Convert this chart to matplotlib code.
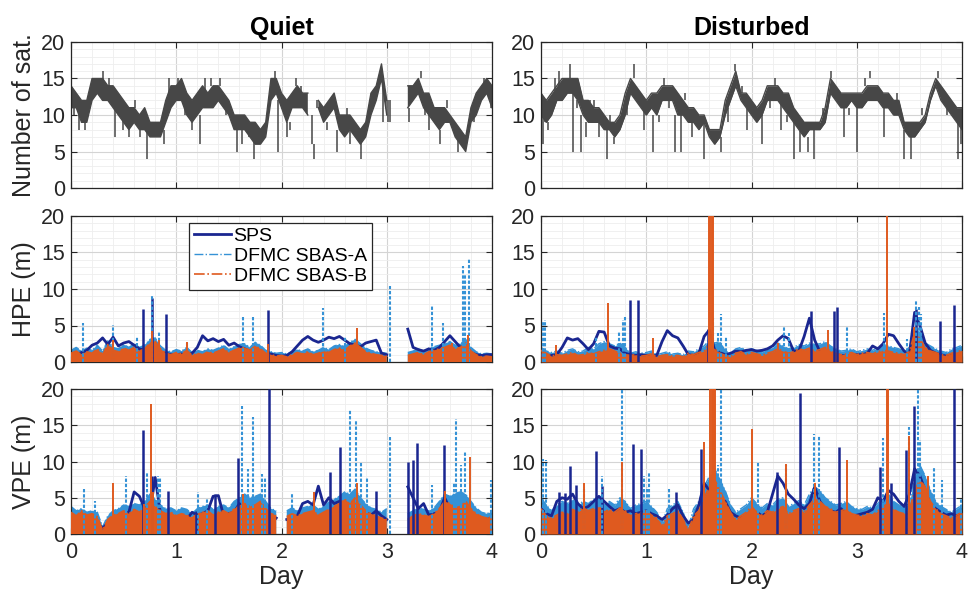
import numpy as np
import matplotlib.pyplot as plt
from matplotlib.ticker import MultipleLocator

nan = float('nan')

# common epoch grid, one sample every 0.05 day
days = np.linspace(0, 4, 81)

# ---- number of satellites: lower / upper edge of the band, plus short excursions
sat_quiet_lo = [11, 11, 9, 9, 12, 13, 12, 12, 11, 10,
                9, 8, 9, 8, 8, 7, 7, 7, 9, 11,
                12, 12, 10, 9, 10, 11, 11, 11, 12, 11,
                10, 8, 8, 8, 7, 6, 6, 7, 12, 13,
                11, 9, 11, 11, 11, 10, nan, 11, 9, 10,
                11, 8, 7, 8, 7, 6, 7, 10, 12, 15,
                10, nan, nan, nan, 11, 12, 13, 11, 10, 9,
                8, 9, 9, 7, 6, 5, 9, 10, 12, 13,
                11]
sat_quiet_hi = [14, 13, 12, 12, 15, 15, 15, 14, 14, 13,
                12, 11, 11, 10, 11, 9, 9, 9, 12, 14,
                14, 15, 13, 12, 13, 14, 13, 14, 14, 13,
                12, 10, 10, 10, 9, 9, 8, 9, 15, 15,
                13, 12, 13, 14, 13, 13, nan, 12, 11, 12,
                13, 10, 10, 10, 9, 8, 9, 13, 14, 17,
                12, nan, nan, nan, 14, 14, 15, 13, 13, 11,
                11, 11, 10, 9, 8, 7, 11, 13, 14, 15,
                14]
sat_quiet_jumps = [(0.03, 10, 12), (0.08, 8, 11), (0.13, 8, 10), (0.22, 14, 15),
                   (0.30, 12, 16), (0.36, 14, 15), (0.42, 7, 11), (0.49, 8, 10),
                   (0.55, 7, 9), (0.61, 11, 12), (0.66, 7, 8), (0.72, 4, 8),
                   (0.88, 6, 8), (0.93, 12, 15), (1.02, 14, 15), (1.08, 10, 12),
                   (1.15, 8, 10), (1.23, 6, 10), (1.27, 13, 15), (1.33, 14, 15),
                   (1.42, 14, 15), (1.47, 10, 11), (1.58, 5, 8), (1.62, 6, 8),
                   (1.69, 7, 8), (1.74, 4, 7), (1.79, 6, 7), (1.94, 14, 16),
                   (1.97, 5, 12), (2.05, 7, 9), (2.08, 8, 9), (2.14, 14, 15),
                   (2.19, 13, 14), (2.29, 6, 10), (2.31, 4, 6), (2.34, 11, 12),
                   (2.43, 8, 9), (2.53, 5, 8), (2.62, 10, 11), (2.65, 6, 8),
                   (2.76, 4, 7), (2.83, 9, 10), (2.96, 9, 15), (3.01, 9, 12),
                   (3.03, 9, 12), (3.21, 9, 11), (3.33, 15, 16), (3.36, 10, 11),
                   (3.40, 8, 10), (3.51, 6, 8), (3.57, 11, 12), (3.68, 5, 7),
                   (3.83, 9, 10), (3.92, 14, 15), (3.99, 11, 13)]

sat_dist_lo = [10, 9, 10, 12, 12, 13, 13, 12, 10, 9,
               9, 9, 8, 8, 7, 8, 10, 13, 12, 11,
               10, 11, 10, 12, 12, 12, 10, 10, 9, 9,
               8, 9, 7, 6, 7, 10, 12, 14, 12, 11,
               10, 9, 10, 12, 12, 12, 11, 10, 9, 8,
               7, 8, 8, 8, 9, 13, 12, 11, 11, 12,
               11, 11, 12, 12, 12, 11, 11, 10, 10, 8,
               7, 7, 8, 9, 12, 14, 12, 11, 10, 9,
               8]
sat_dist_hi = [13, 12, 13, 14, 15, 15, 15, 15, 12, 12,
               11, 11, 10, 9, 9, 10, 13, 15, 14, 13,
               12, 13, 13, 14, 14, 14, 13, 12, 11, 11,
               10, 10, 8, 8, 8, 12, 14, 16, 13, 13,
               12, 11, 12, 14, 14, 14, 13, 13, 11, 10,
               9, 9, 9, 9, 11, 15, 14, 13, 13, 13,
               13, 13, 14, 14, 14, 13, 13, 12, 12, 9,
               9, 9, 9, 10, 13, 15, 14, 13, 12, 11,
               11]
sat_dist_jumps = [(0.02, 6, 10), (0.04, 9, 11), (0.07, 8, 9), (0.13, 13, 15),
                  (0.17, 14, 16), (0.28, 15, 17), (0.30, 5, 13), (0.34, 11, 12),
                  (0.38, 5, 10), (0.43, 7, 9), (0.47, 11, 12), (0.50, 11, 12),
                  (0.55, 7, 9), (0.63, 4, 8), (0.66, 9, 10), (0.69, 6, 7),
                  (0.82, 10, 12), (0.88, 15, 17), (0.98, 8, 11), (1.06, 5, 10),
                  (1.12, 9, 10), (1.17, 14, 15), (1.22, 11, 12), (1.27, 5, 10),
                  (1.33, 5, 10), (1.37, 12, 13), (1.43, 7, 9), (1.48, 9, 10),
                  (1.55, 4, 9), (1.71, 5, 7), (1.78, 9, 11), (1.84, 16, 17),
                  (1.91, 13, 14), (1.96, 8, 11), (2.10, 6, 10), (2.18, 11, 12),
                  (2.22, 14, 15), (2.28, 8, 12), (2.34, 9, 10), (2.40, 4, 9),
                  (2.46, 5, 8), (2.54, 5, 7), (2.59, 4, 8), (2.68, 10, 11),
                  (2.76, 15, 16), (2.88, 7, 11), (2.93, 10, 11), (3.00, 5, 11),
                  (3.08, 14, 15), (3.13, 15, 16), (3.26, 7, 11), (3.38, 12, 13),
                  (3.45, 4, 8), (3.52, 4, 7), (3.62, 10, 11), (3.77, 15, 16),
                  (3.86, 10, 11), (3.96, 4, 9), (3.99, 6, 9)]

# ---- horizontal position error (m), quiet days
hpe_quiet_sps = [0.9, 1.0, 1.3, 1.6, 2.3, 2.6, 3.3, 2.4, 3.4, 2.2,
                 2.6, 2.8, 2.3, 1.8, 1.6, 2.0, 1.8, 1.3, 1.2, 1.0,
                 1.0, 1.1, 0.9, 1.2, 2.0, 3.6, 2.9, 3.2, 2.8, 3.1,
                 2.3, 2.6, 2.1, 1.8, 1.5, 1.2, 1.0, 1.0, 1.1, 0.9,
                 0.8, 0.9, 1.4, 2.2, 3.0, 3.5, 3.0, 2.7, 3.0, 3.4,
                 3.2, 3.5, 3.0, 2.5, 2.3, 2.1, 2.6, 2.8, 3.0, 1.2,
                 1.0, nan, nan, nan, 4.5, 2.0, 1.7, 1.5, 1.8, 1.6,
                 2.0, 2.8, 3.6, 2.8, 2.0, 2.2, 1.3, 1.0, 0.9, 1.0,
                 1.0]
hpe_quiet_sps_peaks = [(0.68, 7.2), (0.77, 8.7), (0.90, 6.6), (1.87, 7.1)]
hpe_quiet_a = [1.6, 2.0, 1.5, 1.9, 1.6, 2.3, 1.5, 2.9, 2.0, 1.8,
               2.4, 2.0, 2.5, 2.0, 2.3, 3.1, 3.3, 2.2, 1.6, 1.4,
               1.7, 1.5, 2.0, 1.3, 1.6, 1.4, 1.8, 1.6, 1.9, 2.3,
               1.7, 2.1, 2.4, 2.5, 2.0, 2.7, 2.3, 1.6, 1.4, 1.2,
               1.3, 1.1, 1.4, 1.7, 1.5, 1.8, 1.4, 1.6, 2.0, 1.7,
               2.2, 2.4, 2.1, 2.7, 3.1, 2.5, 1.9, 1.6, 1.4, 1.3,
               1.2, nan, nan, nan, 1.3, 1.5, 1.8, 1.4, 1.9, 2.1,
               2.3, 2.5, 2.8, 2.3, 2.5, 3.1, 2.0, 1.4, 1.1, 1.2,
               1.1]
hpe_quiet_a_peaks = [(0.11, 5.4), (0.40, 5.1), (0.63, 3.5), (0.77, 9.0), (0.84, 4.1),
                     (1.10, 2.8), (1.63, 6.3), (1.73, 6.2), (2.39, 7.4), (2.60, 3.5),
                     (3.03, 10.4), (3.43, 7.8), (3.53, 5.4), (3.72, 13.2), (3.74, 12.0),
                     (3.78, 14.2)]
hpe_quiet_b = [1.2, 1.5, 1.0, 1.4, 1.2, 1.8, 1.0, 2.4, 1.6, 1.4,
               1.9, 1.6, 2.0, 1.5, 1.8, 2.6, 2.8, 1.8, 1.2, 1.0,
               1.3, 1.1, 1.6, 0.9, 1.2, 1.0, 1.4, 1.2, 1.5, 1.8,
               1.3, 1.6, 1.9, 2.0, 1.6, 2.2, 1.8, 1.2, 1.0, 0.8,
               0.9, 0.7, 1.0, 1.3, 1.1, 1.4, 1.0, 1.2, 1.5, 1.3,
               1.7, 1.9, 1.6, 2.2, 2.6, 2.0, 1.4, 1.2, 1.0, 0.9,
               0.8, nan, nan, nan, 0.9, 1.1, 1.3, 1.0, 1.4, 1.6,
               1.8, 2.0, 2.3, 1.8, 2.0, 2.6, 1.5, 1.0, 0.7, 0.8,
               0.7]
hpe_quiet_b_peaks = [(0.40, 3.0), (0.77, 4.2), (0.84, 3.0), (1.10, 2.7), (1.87, 2.5),
                     (2.72, 4.6), (3.62, 2.6), (3.77, 3.7)]

# ---- horizontal position error (m), disturbed days
hpe_dist_sps = [0.9, 0.8, 0.9, 1.0, 2.0, 3.3, 3.0, 3.2, 2.5, 1.7,
                2.5, 4.2, 4.1, 2.2, 1.9, 1.8, 1.2, 1.0, 0.9, 1.0,
                0.9, 0.8, 0.9, 2.8, 4.3, 3.6, 3.3, 2.2, 1.0, 0.9,
                1.2, 3.5, 4.4, 1.6, 1.3, 1.0, 1.2, 1.5, 1.4, 1.6,
                1.7, 1.5, 1.6, 1.8, 2.2, 3.0, 3.6, 3.2, 1.5, 1.5,
                3.5, 6.0, 3.0, 1.4, 1.0, 1.2, 1.0, 0.9, 0.8, 0.9,
                1.0, 1.0, 1.2, 2.2, 1.8, 2.5, 3.8, 3.6, 2.5, 1.5,
                1.0, 6.8, 5.0, 2.6, 1.6, 1.2, 1.0, 0.8, 0.9, 1.0,
                1.2]
hpe_dist_sps_peaks = [(0.85, 8.5), (0.92, 8.5), (1.59, 4.5), (2.57, 7.0), (2.78, 7.0),
                      (2.81, 7.6), (3.56, 7.3), (3.79, 5.6), (3.92, 7.8)]
hpe_dist_a = [2.0, 1.5, 1.3, 1.5, 1.2, 1.6, 1.8, 1.4, 1.5, 2.0,
              1.8, 2.5, 2.8, 2.5, 2.2, 2.6, 2.0, 1.2, 1.4, 1.2,
              1.3, 1.5, 1.0, 1.2, 1.4, 1.1, 1.2, 1.0, 1.5, 1.4,
              1.8, 2.2, 3.0, 2.6, 2.8, 1.5, 1.2, 1.8, 2.0, 1.6,
              1.8, 1.6, 1.4, 1.8, 2.0, 2.6, 2.2, 1.8, 2.0, 2.4,
              2.2, 2.6, 2.4, 2.5, 2.8, 2.2, 1.8, 1.5, 1.6, 1.8,
              1.4, 1.6, 1.8, 1.6, 2.0, 2.4, 2.2, 2.0, 1.8, 1.5,
              2.0, 4.8, 4.0, 2.6, 2.2, 1.8, 1.5, 1.3, 1.8, 2.0,
              2.3]
hpe_dist_a_peaks = [(0.02, 5.5), (0.04, 5.7), (0.52, 3.6), (0.74, 4.2), (0.78, 5.8),
                    (0.80, 6.3), (1.63, 6.0), (1.68, 4.0), (1.71, 6.6), (1.76, 3.5),
                    (2.31, 4.9), (2.36, 4.0), (2.91, 4.9), (3.26, 6.7), (3.48, 3.2),
                    (3.56, 8.5), (3.59, 7.5), (3.61, 6.6)]
hpe_dist_b = [1.6, 1.2, 0.8, 1.0, 0.9, 1.1, 1.3, 0.9, 1.0, 1.3,
              1.1, 1.4, 1.6, 1.8, 1.5, 1.2, 1.0, 0.9, 1.0, 0.8,
              0.9, 1.1, 0.7, 0.9, 1.0, 0.8, 0.9, 0.7, 1.2, 1.0,
              1.3, 1.5, 2.5, 1.8, 1.2, 0.9, 0.7, 1.2, 1.4, 1.0,
              1.3, 1.1, 0.9, 1.2, 1.4, 1.8, 1.5, 1.2, 1.4, 1.8,
              1.6, 1.9, 1.5, 1.7, 2.0, 1.5, 1.2, 1.0, 1.1, 1.3,
              1.0, 1.2, 1.3, 1.1, 1.4, 1.6, 1.5, 1.3, 1.2, 1.0,
              1.4, 4.0, 3.2, 2.0, 1.5, 1.3, 1.0, 0.9, 1.2, 1.4,
              1.6]
hpe_dist_b_peaks = [(0.14, 2.3), (0.64, 8.1), (1.06, 3.3), (1.60, 20), (1.61, 20),
                    (1.62, 20), (1.63, 20), (2.25, 2.6), (2.73, 4.4), (3.29, 20),
                    (3.54, 4.8)]

# ---- vertical position error (m), quiet days
vpe_quiet_sps = [2.0, 1.5, 2.2, 1.8, 1.2, 1.5, 0.8, 1.5, 2.0, 2.5,
                 2.8, 3.0, 5.8, 5.2, 3.5, 3.0, 7.8, 2.8, 2.5, 2.2,
                 2.0, 2.3, 2.0, 3.0, 2.6, 2.8, 3.2, 5.2, 5.3, 2.5,
                 2.8, 3.0, 4.2, 3.0, 3.5, 3.0, 2.8, 2.5, 2.6, 2.2,
                 nan, 2.0, 2.2, 2.5, 4.2, 4.5, 4.0, 6.6, 4.0, 5.0,
                 4.2, 4.5, 3.5, 3.2, 4.0, 3.5, 3.0, 2.6, 3.2, 2.5,
                 2.0, nan, nan, nan, 6.5, 5.0, 3.5, 4.2, 2.6, 2.8,
                 3.0, 5.0, 3.5, 3.2, 3.0, 3.5, 2.8, 2.5, 2.2, 2.0,
                 2.2]
vpe_quiet_sps_peaks = [(0.68, 14.4), (0.77, 8.0), (0.92, 6.0), (1.19, 3.2), (1.37, 5.5),
                       (1.59, 10.5), (1.88, 20.0), (2.46, 8.6), (2.56, 12.0), (2.90, 6.0),
                       (3.20, 10.0), (3.25, 10.2), (3.29, 12.5), (3.54, 12.3)]
vpe_quiet_a = [3.8, 3.2, 3.5, 3.0, 3.2, 3.0, 1.0, 2.5, 3.2, 3.5,
               4.0, 3.8, 4.2, 4.0, 4.5, 5.5, 4.8, 4.0, 3.5, 3.6,
               3.2, 3.6, 3.4, 2.8, 3.5, 3.8, 4.0, 3.4, 3.8, 4.0,
               3.6, 4.5, 5.0, 5.5, 5.0, 5.2, 5.5, 4.5, 3.5, 3.2,
               nan, 3.2, 3.6, 3.2, 3.6, 3.8, 4.0, 3.4, 3.8, 4.4,
               4.8, 5.2, 5.8, 5.5, 6.2, 5.0, 4.2, 3.6, 3.4, 3.0,
               3.5, nan, nan, nan, 2.8, 3.2, 3.6, 3.4, 3.2, 3.6,
               4.5, 5.5, 5.2, 5.6, 5.8, 5.5, 4.5, 3.6, 3.0, 2.8,
               3.0]
vpe_quiet_a_peaks = [(0.12, 6.3), (0.23, 4.6), (0.52, 8.0), (0.72, 8.5), (0.83, 8.0),
                     (0.85, 7.8), (1.21, 5.8), (1.29, 5.0), (1.62, 17.7), (1.68, 9.0),
                     (1.73, 16.2), (1.81, 8.3), (1.84, 7.7), (2.10, 5.7), (2.65, 17.3),
                     (2.71, 15.7), (2.76, 10.0), (2.81, 7.7), (3.03, 13.4), (3.43, 6.7),
                     (3.64, 7.0), (3.66, 15.9), (3.71, 9.5), (3.74, 11.5), (3.99, 7.5)]
vpe_quiet_b = [3.0, 2.5, 3.2, 2.6, 2.8, 2.4, 0.5, 2.0, 2.6, 2.8,
               3.2, 2.8, 3.4, 3.0, 3.6, 4.5, 3.8, 3.2, 2.8, 3.0,
               2.5, 2.8, 2.6, 2.2, 2.8, 3.0, 3.2, 2.6, 3.0, 3.2,
               2.8, 3.5, 3.8, 4.2, 3.8, 4.0, 4.5, 3.5, 2.8, 2.6,
               nan, 2.4, 2.8, 2.5, 2.8, 3.0, 3.2, 2.6, 3.0, 3.4,
               3.8, 4.2, 4.8, 4.2, 5.0, 4.0, 3.2, 2.8, 2.5, 2.2,
               2.0, nan, nan, nan, 2.0, 2.5, 2.8, 2.6, 2.4, 2.8,
               3.5, 4.5, 4.2, 3.6, 3.8, 4.5, 3.5, 2.8, 2.4, 2.2,
               2.5]
vpe_quiet_b_peaks = [(0.40, 7.1), (0.69, 4.2), (0.76, 18.0), (0.78, 5.8), (1.63, 5.5),
                     (2.31, 5.8), (2.72, 7.0), (3.55, 6.0), (3.79, 10.6)]

# ---- vertical position error (m), disturbed days
vpe_dist_sps = [3.5, 2.8, 2.5, 4.5, 5.0, 4.8, 5.5, 4.2, 3.5, 3.8,
                4.5, 5.2, 4.5, 3.8, 3.2, 3.5, 3.0, 3.2, 2.8, 3.0,
                3.2, 2.8, 2.5, 2.0, 2.6, 3.5, 4.0, 2.5, 1.5, 2.0,
                4.0, 7.0, 6.0, 5.5, 5.0, 4.5, 3.0, 2.5, 2.2, 2.4,
                2.8, 3.0, 2.5, 3.0, 5.5, 8.0, 7.0, 5.5, 4.8, 4.0,
                3.5, 4.2, 6.5, 4.5, 3.5, 3.2, 3.0, 3.5, 2.8, 2.5,
                2.6, 2.8, 3.0, 3.4, 5.0, 4.5, 6.0, 5.5, 4.5, 3.8,
                5.5, 9.0, 8.0, 6.0, 4.0, 3.5, 3.0, 2.6, 2.8, 2.5,
                2.8]
vpe_dist_sps_peaks = [(0.17, 5.8), (0.23, 5.6), (0.28, 9.4), (0.33, 6.8), (0.52, 11.4),
                      (0.58, 6.6), (0.87, 12.4), (0.95, 11.7), (1.28, 5.8), (1.52, 11.7),
                      (2.24, 8.6), (2.46, 19.5), (2.83, 12.0), (3.22, 9.3), (3.33, 7.0),
                      (3.47, 11.6), (3.54, 17.7), (3.92, 20.0)]
vpe_dist_a = [5.0, 4.0, 3.2, 4.0, 4.5, 4.2, 4.8, 4.0, 4.5, 4.2,
              4.8, 5.0, 4.2, 4.5, 4.0, 5.0, 4.5, 3.5, 4.0, 4.2,
              4.5, 3.8, 3.0, 1.5, 3.5, 4.0, 4.5, 3.0, 1.0, 3.5,
              4.5, 6.5, 8.0, 9.0, 7.5, 6.0, 4.0, 3.0, 3.5, 4.0,
              5.0, 4.2, 3.6, 4.2, 4.0, 4.8, 5.0, 3.8, 4.2, 4.6,
              4.0, 5.5, 6.5, 6.0, 5.0, 4.5, 4.0, 4.2, 4.5, 3.8,
              3.5, 3.4, 3.8, 3.6, 4.2, 5.0, 5.5, 4.5, 4.0, 3.8,
              4.2, 8.0, 9.5, 8.0, 6.0, 4.5, 3.8, 3.4, 3.0, 3.5,
              4.0]
vpe_dist_a_peaks = [(0.02, 10.3), (0.05, 10.2), (0.41, 6.5), (0.58, 8.0), (0.77, 20.0),
                    (0.98, 8.0), (1.01, 6.5), (1.03, 8.6), (1.22, 6.2), (1.68, 9.5),
                    (1.71, 20.0), (2.06, 9.9), (2.33, 9.5), (2.59, 13.8), (2.64, 13.5),
                    (3.25, 13.2), (3.50, 14.8), (3.58, 20.0), (3.60, 13.0), (3.73, 9.3),
                    (3.81, 7.5), (3.99, 4.8)]
vpe_dist_b = [3.5, 2.5, 2.2, 2.6, 3.0, 2.8, 3.4, 3.0, 3.6, 3.2,
              3.5, 3.8, 3.0, 3.4, 3.0, 3.6, 3.2, 2.5, 2.8, 3.0,
              3.2, 2.6, 2.2, 1.0, 2.5, 2.8, 3.2, 2.0, 0.5, 2.5,
              3.2, 5.0, 6.5, 7.5, 6.0, 4.5, 3.0, 2.0, 2.5, 3.0,
              3.8, 3.0, 2.6, 3.2, 3.0, 3.5, 3.8, 2.8, 3.2, 3.5,
              3.0, 4.0, 4.8, 4.5, 3.8, 3.5, 3.0, 3.2, 3.5, 2.8,
              2.6, 2.5, 2.8, 2.6, 3.2, 3.8, 4.2, 3.4, 3.0, 2.8,
              3.2, 6.0, 7.5, 6.5, 4.5, 3.5, 2.8, 2.5, 2.2, 2.6,
              3.0]
vpe_dist_b_peaks = [(0.41, 7.0), (0.77, 10.0), (1.55, 12.7), (1.61, 20), (1.62, 20),
                    (1.63, 20), (1.64, 20), (1.65, 20), (2.00, 14.5), (2.33, 9.6),
                    (2.60, 7.0), (2.91, 10.2), (3.29, 20), (3.30, 20), (3.50, 13.5),
                    (3.68, 8.0)]

titles = ['Quiet', 'Disturbed']
ylabels = ['Number of sat.', 'HPE (m)', 'VPE (m)']
series_names = ['SPS', 'DFMC SBAS-A', 'DFMC SBAS-B']

C_SAT = '#474747'
C_SPS = '#1a2690'
C_A = '#3592d6'
C_B = '#df5a1f'
C_AX = '#262626'
DOTS = (0, (1.6, 0.9))

plt.rcParams['font.family'] = ['Liberation Sans', 'DejaVu Sans']

W, H = 968, 595
fig = plt.figure(figsize=(W / 100, H / 100), dpi=100)


def px_box(x0, y0, x1, y1):
    return [x0 / W, 1 - y1 / H, (x1 - x0) / W, (y1 - y0) / H]


cols = [(71, 492), (541, 962)]
rows = [(42, 188), (216, 362), (389, 534)]


def style(ax, bottom):
    ax.set_xlim(0, 4)
    ax.set_ylim(0, 20)
    ax.xaxis.set_major_locator(MultipleLocator(1))
    ax.xaxis.set_minor_locator(MultipleLocator(0.2))
    ax.yaxis.set_major_locator(MultipleLocator(5))
    ax.yaxis.set_minor_locator(MultipleLocator(1))
    ax.grid(which='major', color='#d4d4d4', lw=0.8)
    ax.grid(which='minor', color='#eeeeee', lw=0.6)
    ax.set_axisbelow(True)
    ax.tick_params(which='both', direction='in', top=True, right=True,
                   labelsize=15.5, colors=C_AX)
    ax.tick_params(which='major', length=4, width=0.8)
    ax.tick_params(which='minor', length=0)
    ax.tick_params(axis='y', pad=4)
    ax.tick_params(axis='x', pad=6)
    for s in ax.spines.values():
        s.set_color(C_AX)
        s.set_linewidth(0.9)
    if not bottom:
        ax.set_xticklabels([])


def draw_sat(ax, lo, hi, jumps):
    ax.fill_between(days, lo, hi, color=C_SAT, lw=0, zorder=2)
    ax.plot(days, lo, color=C_SAT, lw=1.0, zorder=2)
    ax.plot(days, hi, color=C_SAT, lw=1.0, zorder=2)
    x, y0, y1 = zip(*jumps)
    ax.vlines(x, y0, y1, color=C_SAT, lw=1.1, zorder=2)


def draw_errors(ax, sps, sps_peaks, sbas_a, a_peaks, sbas_b, b_peaks):
    ax.fill_between(days, 0, sbas_a, color=C_A, lw=0, zorder=2)
    h_a, = ax.plot(days, sbas_a, color=C_A, lw=1.0, ls='-.', zorder=2)
    h_sps, = ax.plot(days, sps, color=C_SPS, lw=2.0, zorder=3)
    ax.fill_between(days, 0, sbas_b, color=C_B, lw=0, zorder=4)
    h_b, = ax.plot(days, sbas_b, color=C_B, lw=1.2, ls='-.', zorder=4)
    x, y = zip(*sps_peaks)
    ax.vlines(x, 0, y, color=C_SPS, lw=1.8, zorder=5)
    x, y = zip(*a_peaks)
    ax.vlines(x, 0, y, color=C_A, lw=1.5, linestyles=[DOTS], zorder=5)
    x, y = zip(*b_peaks)
    ax.vlines(x, 0, y, color=C_B, lw=1.4, zorder=6)
    return [h_sps, h_a, h_b]


sat_data = [(sat_quiet_lo, sat_quiet_hi, sat_quiet_jumps),
            (sat_dist_lo, sat_dist_hi, sat_dist_jumps)]
hpe_data = [(hpe_quiet_sps, hpe_quiet_sps_peaks, hpe_quiet_a, hpe_quiet_a_peaks,
             hpe_quiet_b, hpe_quiet_b_peaks),
            (hpe_dist_sps, hpe_dist_sps_peaks, hpe_dist_a, hpe_dist_a_peaks,
             hpe_dist_b, hpe_dist_b_peaks)]
vpe_data = [(vpe_quiet_sps, vpe_quiet_sps_peaks, vpe_quiet_a, vpe_quiet_a_peaks,
             vpe_quiet_b, vpe_quiet_b_peaks),
            (vpe_dist_sps, vpe_dist_sps_peaks, vpe_dist_a, vpe_dist_a_peaks,
             vpe_dist_b, vpe_dist_b_peaks)]

for c, (x0, x1) in enumerate(cols):
    axes = [fig.add_axes(px_box(x0, y0, x1, y1)) for (y0, y1) in rows]
    for r, ax in enumerate(axes):
        style(ax, bottom=(r == 2))

    draw_sat(axes[0], *sat_data[c])
    handles = draw_errors(axes[1], *hpe_data[c])
    draw_errors(axes[2], *vpe_data[c])

    axes[0].set_title(titles[c], fontsize=18, fontweight='bold', pad=5, color='black')
    axes[2].set_xlabel('Day', fontsize=18, color=C_AX, labelpad=1)
    if c == 0:
        for ax, lab in zip(axes, ylabels):
            ax.set_ylabel(lab, fontsize=18, color=C_AX, labelpad=4)
        leg = axes[1].legend(handles, series_names, loc='upper left',
                             bbox_to_anchor=(0.28, 0.955), fontsize=14,
                             frameon=True, fancybox=False, framealpha=1,
                             edgecolor=C_AX, handlelength=1.9, handletextpad=0.15,
                             borderpad=0.25, labelspacing=0.12, borderaxespad=0)
        leg.get_frame().set_linewidth(0.9)
        leg.set_zorder(10)

fig.savefig('out.png', dpi=100)
